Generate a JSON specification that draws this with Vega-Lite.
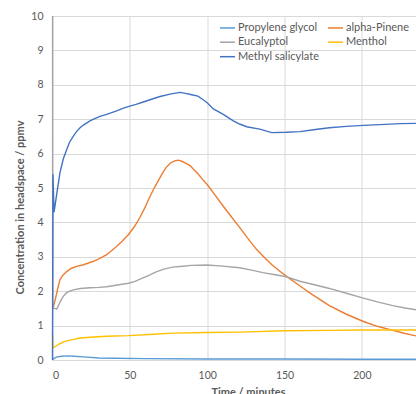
{
  "$schema": "https://vega.github.io/schema/vega-lite/v6.json",
  "width": 363.5,
  "height": 344,
  "autosize": {"type": "none"},
  "padding": {"left": 52.5, "top": 16, "right": 0, "bottom": 34},
  "background": "white",
  "config": {"view": {"stroke": null}, "font": "Lato"},
  "data": {"values": [
    {"s":"Propylene glycol","t":0,"v":0},{"s":"Propylene glycol","t":1,"v":0.05},{"s":"Propylene glycol","t":3,"v":0.09},{"s":"Propylene glycol","t":6,"v":0.11},{"s":"Propylene glycol","t":10,"v":0.12},{"s":"Propylene glycol","t":14,"v":0.11},{"s":"Propylene glycol","t":20,"v":0.09},{"s":"Propylene glycol","t":30,"v":0.06},{"s":"Propylene glycol","t":40,"v":0.05},{"s":"Propylene glycol","t":60,"v":0.04},{"s":"Propylene glycol","t":100,"v":0.03},{"s":"Propylene glycol","t":150,"v":0.03},{"s":"Propylene glycol","t":200,"v":0.02},{"s":"Propylene glycol","t":235,"v":0.02},

    {"s":"alpha-Pinene","t":0.3,"v":1.5},{"s":"alpha-Pinene","t":2,"v":1.8},{"s":"alpha-Pinene","t":3.5,"v":2.1},{"s":"alpha-Pinene","t":4.8,"v":2.33},{"s":"alpha-Pinene","t":7,"v":2.48},{"s":"alpha-Pinene","t":9.2,"v":2.57},{"s":"alpha-Pinene","t":12,"v":2.66},{"s":"alpha-Pinene","t":15.6,"v":2.72},{"s":"alpha-Pinene","t":20,"v":2.77},{"s":"alpha-Pinene","t":26.4,"v":2.87},{"s":"alpha-Pinene","t":30,"v":2.94},{"s":"alpha-Pinene","t":35,"v":3.06},{"s":"alpha-Pinene","t":41.4,"v":3.3},{"s":"alpha-Pinene","t":45,"v":3.45},{"s":"alpha-Pinene","t":49,"v":3.64},{"s":"alpha-Pinene","t":53,"v":3.88},{"s":"alpha-Pinene","t":56.6,"v":4.15},{"s":"alpha-Pinene","t":60,"v":4.45},{"s":"alpha-Pinene","t":62,"v":4.66},{"s":"alpha-Pinene","t":66,"v":5.02},{"s":"alpha-Pinene","t":70.6,"v":5.39},{"s":"alpha-Pinene","t":73,"v":5.57},{"s":"alpha-Pinene","t":76,"v":5.72},{"s":"alpha-Pinene","t":79,"v":5.79},{"s":"alpha-Pinene","t":81.3,"v":5.81},{"s":"alpha-Pinene","t":84,"v":5.77},{"s":"alpha-Pinene","t":86.7,"v":5.71},{"s":"alpha-Pinene","t":88.9,"v":5.65},{"s":"alpha-Pinene","t":91,"v":5.55},{"s":"alpha-Pinene","t":94.3,"v":5.4},{"s":"alpha-Pinene","t":97,"v":5.25},{"s":"alpha-Pinene","t":100,"v":5.1},{"s":"alpha-Pinene","t":105,"v":4.8},{"s":"alpha-Pinene","t":110.4,"v":4.47},{"s":"alpha-Pinene","t":115,"v":4.2},{"s":"alpha-Pinene","t":121.2,"v":3.84},{"s":"alpha-Pinene","t":126,"v":3.55},{"s":"alpha-Pinene","t":132,"v":3.21},{"s":"alpha-Pinene","t":137,"v":2.98},{"s":"alpha-Pinene","t":142,"v":2.76},{"s":"alpha-Pinene","t":147,"v":2.58},{"s":"alpha-Pinene","t":152,"v":2.41},{"s":"alpha-Pinene","t":160,"v":2.15},{"s":"alpha-Pinene","t":168,"v":1.9},{"s":"alpha-Pinene","t":179,"v":1.58},{"s":"alpha-Pinene","t":190,"v":1.33},{"s":"alpha-Pinene","t":201,"v":1.12},{"s":"alpha-Pinene","t":210,"v":0.98},{"s":"alpha-Pinene","t":220,"v":0.86},{"s":"alpha-Pinene","t":228,"v":0.77},{"s":"alpha-Pinene","t":235,"v":0.7},

    {"s":"Eucalyptol","t":0.05,"v":10},{"s":"Eucalyptol","t":0.1,"v":1.5},{"s":"Eucalyptol","t":1.5,"v":1.5},{"s":"Eucalyptol","t":2.7,"v":1.48},{"s":"Eucalyptol","t":4,"v":1.6},{"s":"Eucalyptol","t":5.5,"v":1.74},{"s":"Eucalyptol","t":7,"v":1.85},{"s":"Eucalyptol","t":9,"v":1.95},{"s":"Eucalyptol","t":11,"v":2.0},{"s":"Eucalyptol","t":13.5,"v":2.04},{"s":"Eucalyptol","t":18,"v":2.08},{"s":"Eucalyptol","t":24.2,"v":2.1},{"s":"Eucalyptol","t":30,"v":2.11},{"s":"Eucalyptol","t":35,"v":2.13},{"s":"Eucalyptol","t":42,"v":2.18},{"s":"Eucalyptol","t":49,"v":2.23},{"s":"Eucalyptol","t":53,"v":2.28},{"s":"Eucalyptol","t":56.6,"v":2.35},{"s":"Eucalyptol","t":62,"v":2.45},{"s":"Eucalyptol","t":67,"v":2.56},{"s":"Eucalyptol","t":72,"v":2.64},{"s":"Eucalyptol","t":77.7,"v":2.7},{"s":"Eucalyptol","t":82.4,"v":2.72},{"s":"Eucalyptol","t":90,"v":2.75},{"s":"Eucalyptol","t":100,"v":2.76},{"s":"Eucalyptol","t":110,"v":2.73},{"s":"Eucalyptol","t":121,"v":2.68},{"s":"Eucalyptol","t":128,"v":2.62},{"s":"Eucalyptol","t":136,"v":2.54},{"s":"Eucalyptol","t":144,"v":2.48},{"s":"Eucalyptol","t":151,"v":2.42},{"s":"Eucalyptol","t":160,"v":2.29},{"s":"Eucalyptol","t":170,"v":2.18},{"s":"Eucalyptol","t":179,"v":2.08},{"s":"Eucalyptol","t":190,"v":1.94},{"s":"Eucalyptol","t":201,"v":1.8},{"s":"Eucalyptol","t":210,"v":1.69},{"s":"Eucalyptol","t":220,"v":1.58},{"s":"Eucalyptol","t":228,"v":1.51},{"s":"Eucalyptol","t":235,"v":1.46},

    {"s":"Menthol","t":0,"v":0.75},{"s":"Menthol","t":0.4,"v":0.35},{"s":"Menthol","t":2,"v":0.4},{"s":"Menthol","t":5,"v":0.48},{"s":"Menthol","t":8,"v":0.54},{"s":"Menthol","t":13.5,"v":0.6},{"s":"Menthol","t":18,"v":0.64},{"s":"Menthol","t":24,"v":0.66},{"s":"Menthol","t":35,"v":0.69},{"s":"Menthol","t":49,"v":0.71},{"s":"Menthol","t":65,"v":0.75},{"s":"Menthol","t":78,"v":0.78},{"s":"Menthol","t":100,"v":0.8},{"s":"Menthol","t":121,"v":0.81},{"s":"Menthol","t":150,"v":0.85},{"s":"Menthol","t":180,"v":0.86},{"s":"Menthol","t":200,"v":0.87},{"s":"Menthol","t":220,"v":0.87},{"s":"Menthol","t":235,"v":0.87},

    {"s":"Methyl salicylate","t":0,"v":0},{"s":"Methyl salicylate","t":0.3,"v":5.4},{"s":"Methyl salicylate","t":1,"v":4.3},{"s":"Methyl salicylate","t":3,"v":4.9},{"s":"Methyl salicylate","t":4.8,"v":5.44},{"s":"Methyl salicylate","t":7,"v":5.85},{"s":"Methyl salicylate","t":9.2,"v":6.12},{"s":"Methyl salicylate","t":11,"v":6.33},{"s":"Methyl salicylate","t":13.5,"v":6.51},{"s":"Methyl salicylate","t":15.5,"v":6.64},{"s":"Methyl salicylate","t":17.8,"v":6.75},{"s":"Methyl salicylate","t":20,"v":6.83},{"s":"Methyl salicylate","t":24.2,"v":6.95},{"s":"Methyl salicylate","t":27,"v":7.01},{"s":"Methyl salicylate","t":30.7,"v":7.08},{"s":"Methyl salicylate","t":35,"v":7.14},{"s":"Methyl salicylate","t":41.5,"v":7.24},{"s":"Methyl salicylate","t":45.8,"v":7.32},{"s":"Methyl salicylate","t":50,"v":7.38},{"s":"Methyl salicylate","t":54,"v":7.43},{"s":"Methyl salicylate","t":58.7,"v":7.5},{"s":"Methyl salicylate","t":64,"v":7.58},{"s":"Methyl salicylate","t":69.5,"v":7.66},{"s":"Methyl salicylate","t":76,"v":7.73},{"s":"Methyl salicylate","t":82.4,"v":7.78},{"s":"Methyl salicylate","t":86,"v":7.75},{"s":"Methyl salicylate","t":90,"v":7.71},{"s":"Methyl salicylate","t":94,"v":7.67},{"s":"Methyl salicylate","t":97,"v":7.58},{"s":"Methyl salicylate","t":100,"v":7.48},{"s":"Methyl salicylate","t":104,"v":7.3},{"s":"Methyl salicylate","t":110.4,"v":7.14},{"s":"Methyl salicylate","t":116.9,"v":6.95},{"s":"Methyl salicylate","t":121,"v":6.86},{"s":"Methyl salicylate","t":125.5,"v":6.78},{"s":"Methyl salicylate","t":134,"v":6.71},{"s":"Methyl salicylate","t":141.7,"v":6.61},{"s":"Methyl salicylate","t":151,"v":6.62},{"s":"Methyl salicylate","t":160,"v":6.64},{"s":"Methyl salicylate","t":170,"v":6.7},{"s":"Methyl salicylate","t":179,"v":6.75},{"s":"Methyl salicylate","t":190,"v":6.79},{"s":"Methyl salicylate","t":201,"v":6.82},{"s":"Methyl salicylate","t":215,"v":6.85},{"s":"Methyl salicylate","t":225,"v":6.87},{"s":"Methyl salicylate","t":235,"v":6.88}
  ]},
  "mark": {"type": "line", "strokeWidth": 1.4, "clip": false},
  "encoding": {
    "x": {
      "field": "t", "type": "quantitative",
      "scale": {"domain": [0, 235], "nice": false, "zero": false},
      "axis": {
        "values": [0, 50, 100, 150, 200],
        "title": "Time / minutes",
        "grid": true, "gridColor": "#D9D9D9", "gridWidth": 1,
        "domain": false, "ticks": false,
        "labelPadding": 10, "labelFontSize": 10.5, "labelColor": "#595959",
        "titleFontSize": 11, "titleColor": "#595959", "titleFontWeight": "bold",
        "titleX": 195.5, "titlePadding": 6
      }
    },
    "y": {
      "field": "v", "type": "quantitative",
      "scale": {"domain": [0, 10], "nice": false},
      "axis": {
        "values": [0, 1, 2, 3, 4, 5, 6, 7, 8, 9, 10],
        "title": "Concentration in headspace / ppmv",
        "grid": true, "gridColor": "#D9D9D9", "gridWidth": 1,
        "domain": false, "ticks": false,
        "labelPadding": 9.5, "labelFontSize": 10.5, "labelColor": "#595959",
        "titleFontSize": 11, "titleColor": "#595959", "titleFontWeight": "bold",
        "titleX": -32.5, "titleY": 191, "titleBaseline": "middle"
      }
    },
    "color": {
      "field": "s", "type": "nominal",
      "scale": {
        "domain": ["Propylene glycol", "Eucalyptol", "Methyl salicylate", "alpha-Pinene", "Menthol"],
        "range": ["#5B9BD5", "#A5A5A5", "#4472C4", "#ED7D31", "#FFC000"]
      },
      "legend": {
        "title": null, "orient": "none", "legendX": 166.5, "legendY": 3.2,
        "columns": 2, "columnPadding": 6, "rowPadding": 0.5, "padding": 0,
        "symbolType": "stroke", "symbolSize": 225, "symbolStrokeWidth": 1.5,
        "labelFontSize": 11, "labelColor": "#595959", "labelOffset": 2
      }
    }
  }
}
